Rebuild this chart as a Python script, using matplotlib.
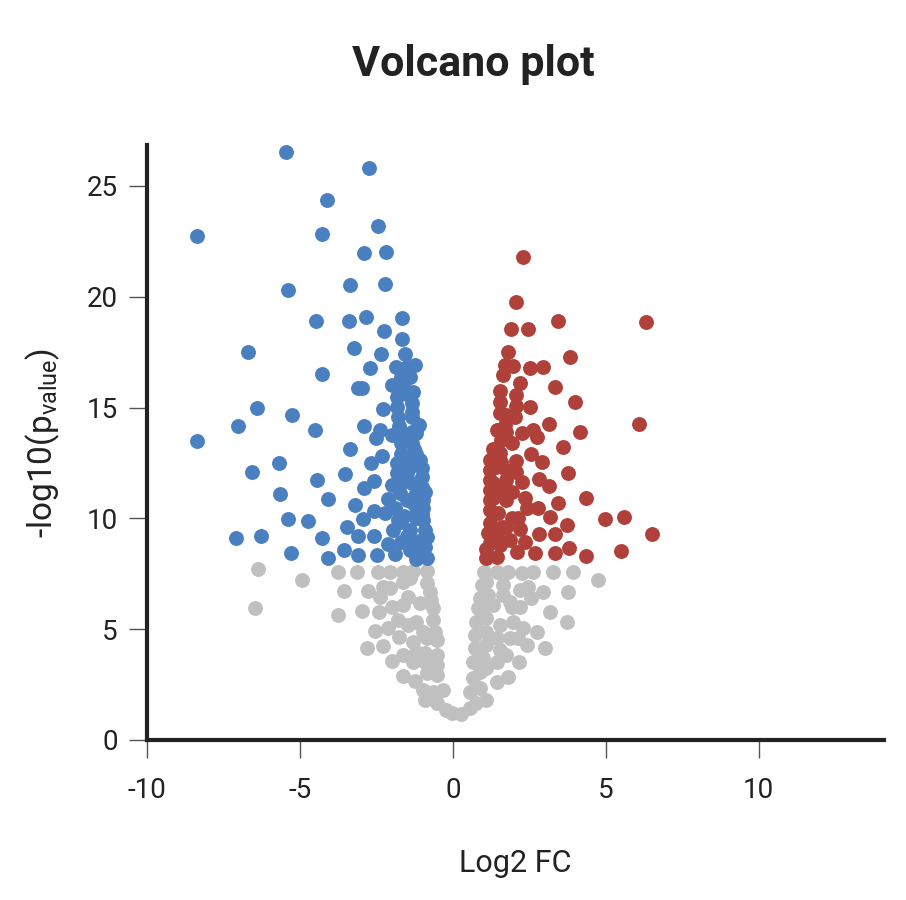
import matplotlib
matplotlib.use("Agg")
import matplotlib.pyplot as plt

plt.rcParams['font.family'] = ['Roboto', 'DejaVu Sans']
plt.rcParams['mathtext.default'] = 'regular'
plt.rcParams['axes.unicode_minus'] = False

# down-regulated (blue)
down_x = [-5.46, -2.75, -4.11, -2.46, -8.38, -4.29, -2.91, -2.17, -3.37, -2.21,
          -5.40, -4.47, -3.40, -2.85, -1.66, -2.25, -1.67, -6.70, -3.24, -2.34,
          -1.55, -2.72, -1.87, -1.51, -4.27, -1.41, -3.09, -2.96, -1.98, -1.62,
          -1.30, -1.82, -1.32, -1.83, -2.29, -6.40, -5.27, -1.35, -1.32, -1.79,
          -7.02, -4.51, -2.91, -2.39, -2.52, -2.00, -1.75, -1.35, -1.19, -8.38,
          -1.68, -1.35, -1.27, -3.37, -2.33, -2.69, -5.68, -6.56, -1.82, -1.19,
          -1.08, -1.02, -1.46, -3.54, -4.43, -2.57, -2.91, -2.00, -1.82, -1.51,
          -1.68, -1.35, -1.02, -1.02, -5.65, -4.09, -3.19, -2.57, -2.11, -2.22,
          -1.73, -1.51, -1.19, -0.97, -1.90, -0.97, -1.19, -5.38, -4.73, -2.93,
          -1.79, -1.68, -1.19, -0.97, -3.47, -7.10, -6.28, -4.28, -3.11, -2.57,
          -1.95, -1.41, -0.92, -2.11, -1.68, -1.24, -0.86, -3.56, -5.28, -4.09,
          -3.11, -2.47, -1.89, -1.41, -1.08, -0.84, -1.19,
          -1.00, -0.90, -1.10, -1.50, -1.60, -1.40, -1.70, -1.10, -1.50, -1.25,
          -1.70, -0.90, -1.30, -1.60]
down_y = [26.53, 25.81, 24.38, 23.18, 22.76, 22.82, 21.99, 22.04, 20.52, 20.59,
          20.31, 18.91, 18.91, 19.07, 19.04, 18.46, 18.08, 17.52, 17.69, 17.42,
          17.41, 16.79, 16.85, 16.85, 16.50, 16.39, 15.87, 15.90, 16.03, 16.02,
          15.69, 15.49, 15.22, 15.01, 14.95, 14.98, 14.65, 14.78, 14.56, 14.56,
          14.15, 14.01, 14.17, 13.97, 13.61, 13.76, 14.17, 13.91, 13.87, 13.48,
          13.39, 13.39, 13.12, 13.12, 12.82, 12.49, 12.51, 12.11, 12.49, 12.91,
          12.64, 12.29, 12.78, 11.99, 11.73, 11.70, 11.37, 11.51, 12.04, 12.06,
          11.58, 11.58, 11.88, 11.43, 11.10, 10.86, 10.59, 10.35, 10.86, 10.23,
          11.13, 10.83, 11.13, 10.83, 10.46, 10.46, 10.23, 9.97, 9.88, 9.97,
          9.93, 9.85, 10.00, 9.93, 9.63, 9.10, 9.22, 9.12, 9.22, 9.22,
          9.48, 9.48, 9.48, 8.83, 8.95, 8.95, 9.17, 8.57, 8.45, 8.21,
          8.35, 8.35, 8.39, 8.57, 8.43, 8.20, 8.15,
          10.20, 11.20, 9.00, 9.20, 13.80, 12.30, 12.90, 14.20, 15.60, 16.90,
          16.40, 8.70, 10.70, 10.10]

# up-regulated (red)
up_x = [2.28, 2.08, 3.44, 6.33, 1.90, 2.46, 1.79, 3.82, 1.70, 1.97,
        2.54, 2.95, 1.64, 2.21, 3.33, 1.54, 2.06, 3.99, 1.54, 2.06,
        2.52, 1.54, 1.75, 2.03, 3.15, 6.08, 1.43, 1.75, 2.25, 2.62,
        2.74, 4.17, 1.59, 1.92, 3.60, 1.32, 1.54, 2.57, 2.90, 1.21,
        1.59, 2.06, 3.77, 1.21, 1.75, 2.08, 2.25, 2.81, 1.21, 1.75,
        3.15, 1.21, 1.54, 1.92, 2.35, 4.35, 3.44, 1.21, 1.75, 2.41,
        2.79, 1.21, 1.48, 3.17, 1.92, 2.13, 4.97, 5.60, 1.21, 1.75,
        3.72, 2.19, 6.51, 2.81, 3.33, 1.15, 1.43, 1.86, 2.35, 1.21,
        1.54, 3.80, 5.51, 2.11, 2.70, 3.33, 4.34, 1.10, 1.43,
        1.30, 1.10, 1.30, 1.60, 1.40, 1.70, 1.35]
up_y = [21.78, 19.78, 18.91, 18.88, 18.53, 18.53, 17.50, 17.28, 16.92, 16.88,
        16.79, 16.85, 16.47, 16.10, 15.94, 15.76, 15.57, 15.27, 15.27, 15.07,
        15.04, 14.74, 14.67, 14.59, 14.26, 14.26, 13.99, 13.91, 13.84, 13.99,
        13.69, 13.90, 13.54, 13.42, 13.21, 13.12, 12.94, 12.91, 12.56, 12.64,
        12.56, 12.59, 12.06, 12.18, 12.18, 12.11, 11.66, 11.79, 11.73, 11.73,
        11.45, 11.28, 11.28, 11.20, 10.93, 10.93, 10.68, 10.83, 10.83, 10.46,
        10.46, 10.38, 10.23, 10.05, 10.00, 10.00, 9.96, 10.05, 9.78, 9.63,
        9.70, 9.51, 9.30, 9.30, 9.30, 9.33, 9.25, 9.03, 8.92, 8.88,
        8.80, 8.66, 8.54, 8.47, 8.43, 8.43, 8.30, 8.20, 8.27,
        10.90, 8.60, 11.60, 9.60, 12.30, 14.20, 12.80]

# not significant (grey)
ns_x = [-6.38, -4.92, -6.47, -3.77, -3.13, -2.44, -2.06, -1.62, -1.30, -0.83,
        -3.55, -2.79, -2.28, -2.39, -2.06, -1.62, -1.41, -0.86, -0.75, -3.77,
        -2.98, -2.42, -2.00, -1.62, -1.46, -1.08, -0.70, -0.64, -1.79, -1.46,
        -1.19, -0.97, -0.64, -0.59, -2.55, -2.11, -1.75, -1.30, -0.86, -0.53,
        -2.82, -2.28, -1.62, -1.19, -0.92, -0.53, -1.98, -1.30, -0.92, -0.53,
        -1.62, -1.24, -0.86, -0.53, -0.97, -0.64, -0.32, -0.92, -0.53, -0.21,
        -0.04, 0.28,
        0.56, 0.77, 1.10, 0.56, 0.88, 1.43, 1.81, 0.66, 0.88, 1.10,
        0.66, 0.99, 1.43, 1.75, 2.17, 0.72, 1.10, 1.54, 1.86, 2.41,
        3.01, 0.72, 1.10, 1.43, 2.13, 2.74, 0.77, 1.10, 1.54, 1.97,
        2.30, 0.83, 1.10, 1.32, 1.92, 2.19, 3.17, 3.72, 0.88, 1.15,
        1.64, 2.57, 1.86, 0.94, 1.10, 1.64, 2.19, 2.46, 2.95, 3.77,
        1.02, 1.43, 1.81, 2.25, 2.62, 3.28, 3.93, 4.75]
ns_y = [7.72, 7.22, 5.97, 7.59, 7.59, 7.59, 7.59, 7.59, 7.63, 7.63,
        6.72, 6.72, 6.92, 6.47, 6.85, 7.14, 7.30, 7.07, 6.69, 5.64,
        5.82, 5.76, 6.02, 6.09, 6.47, 6.17, 6.32, 5.94, 5.42, 5.19,
        5.34, 4.89, 5.42, 4.89, 4.92, 5.04, 4.66, 4.44, 4.59, 4.51,
        4.17, 4.26, 3.84, 3.98, 3.91, 3.84, 3.56, 3.53, 3.53, 3.38,
        2.89, 2.66, 3.01, 2.93, 2.26, 2.18, 2.26, 1.81, 1.66, 1.35,
        1.20, 1.16,
        1.43, 1.66, 1.81, 2.18, 2.33, 2.63, 2.86, 2.78, 3.08, 3.24,
        3.53, 3.69, 3.53, 3.84, 3.53, 4.14, 4.29, 4.06, 4.59, 4.29,
        4.14, 4.74, 4.89, 4.59, 4.59, 4.89, 5.34, 5.49, 5.19, 5.34,
        5.04, 5.94, 6.09, 6.09, 6.02, 6.02, 5.79, 5.34, 6.39, 6.54,
        6.54, 6.39, 6.24, 6.99, 7.14, 6.99, 6.77, 6.92, 6.69, 6.69,
        7.59, 7.57, 7.57, 7.55, 7.57, 7.57, 7.57, 7.22]

fig = plt.figure(figsize=(9.06, 9.0), dpi=100)
ax = fig.add_axes([0.1623, 0.1778, 0.8134, 0.6611])

ax.scatter(ns_x, ns_y, s=115, color='#c0c0c0', linewidths=0, zorder=2, clip_on=False)
ax.scatter(down_x, down_y, s=115, color='#4a7fc0', linewidths=0, zorder=3, clip_on=False)
ax.scatter(up_x, up_y, s=115, color='#b0403a', linewidths=0, zorder=3, clip_on=False)

ax.set_xlim(-10, 14.1)
ax.set_ylim(0, 26.85)
ax.set_xticks([-10, -5, 0, 5, 10])
ax.set_yticks([0, 5, 10, 15, 20, 25])

for side in ['top', 'right']:
    ax.spines[side].set_visible(False)
for side in ['left', 'bottom']:
    ax.spines[side].set_linewidth(3)
    ax.spines[side].set_color('#222222')
    ax.spines[side].set_zorder(4)

ax.tick_params(axis='both', direction='out', length=13, width=1, color='#555555',
               labelsize=20, labelcolor='#222222')
ax.tick_params(axis='x', pad=14)
ax.tick_params(axis='y', pad=8)

ax.set_xlabel('Log2 FC', fontsize=22, color='#222222', labelpad=32)
ax.set_ylabel('-log10(p$_{value}$)', fontsize=24, color='#222222', labelpad=18)

fig.text(0.522, 0.928, 'Volcano plot', ha='center', va='center', fontsize=31,
         fontweight='bold', color='#222222')

fig.savefig('out.png', dpi=100)
